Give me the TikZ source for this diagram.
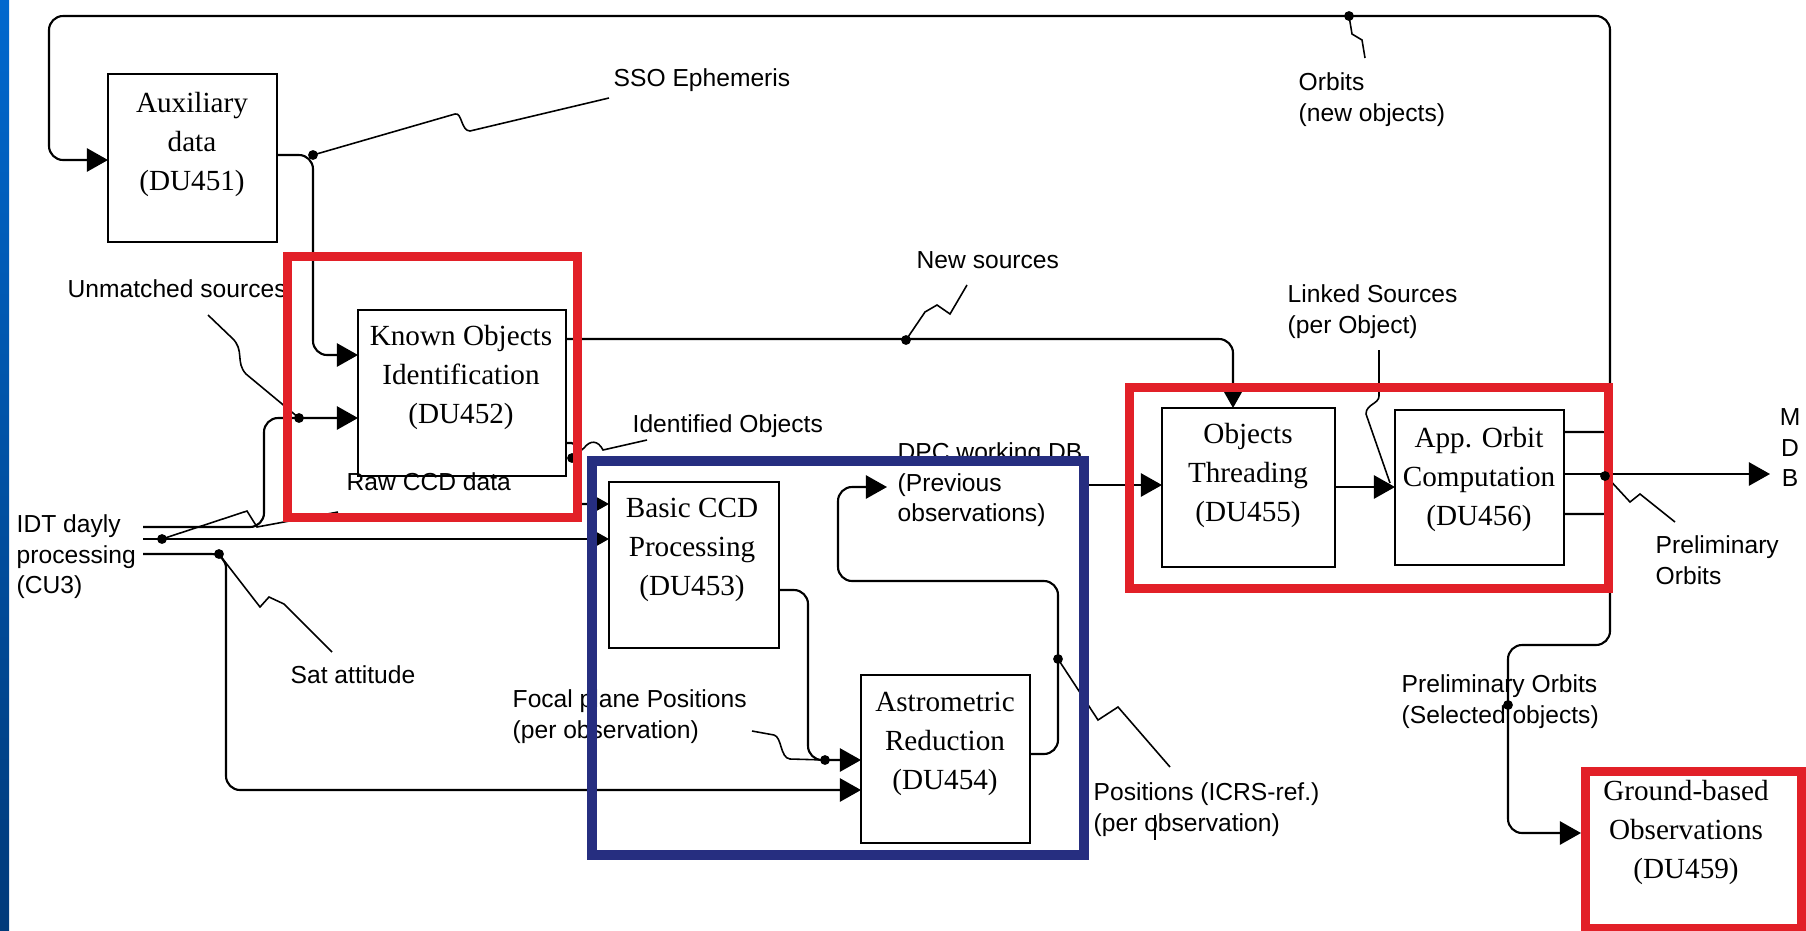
\documentclass[tikz,border=0pt]{standalone}
\usepackage{fontspec}
\setmainfont{Liberation Serif}
\setsansfont{Liberation Sans}
\usetikzlibrary{arrows.meta}

\definecolor{hlred}{RGB}{226,32,40}
\definecolor{hlblue}{RGB}{38,46,128}
\definecolor{stripT}{RGB}{0,104,206}
\definecolor{stripB}{RGB}{0,58,122}

\newcommand\lblfnt{\sffamily\fontsize{7}{8.7}\selectfont}
\newcommand\boxfnt{\rmfamily\fontsize{8.3}{11.1}\selectfont}

\tikzset{
  ln/.style={line width=0.6pt, rounded corners=4pt},
  arr/.style={ln, -{Triangle[length=6pt,width=6.6pt]}},
  squig/.style={line width=0.45pt},
  blk/.style={draw, line width=0.7pt, fill=white, outer sep=0pt, inner sep=0pt, anchor=north west},
  redbox/.style={draw=hlred, line width=2.6pt},
  bluebox/.style={draw=hlblue, line width=2.8pt},
  jdot/.style={circle, fill=black, inner sep=0pt, minimum size=2.8pt},
  lbl/.style={font=\lblfnt, inner sep=0pt, align=left, anchor=north west, yshift=6.09pt},
  boxtxt/.style={font=\boxfnt, inner sep=0pt, align=center, anchor=north, yshift=7.77pt},
}

\begin{document}
\begin{tikzpicture}[x=0.01cm, y=-0.01cm]
\useasboundingbox (0,0) rectangle (1806,930);
\fill[white] (0,0) rectangle (1806,930);
\shade[top color=stripT, bottom color=stripB] (0,0) rectangle (9,930);

% processing units
\node[blk, minimum width=1.69cm, minimum height=1.68cm] (aux)    at (108,74)   {};
\node[blk, minimum width=2.08cm, minimum height=1.66cm] (known)  at (358,310)  {};
\node[blk, minimum width=1.70cm, minimum height=1.66cm] (basic)  at (609,482)  {};
\node[blk, minimum width=1.69cm, minimum height=1.68cm] (astro)  at (861,675)  {};
\node[blk, minimum width=1.73cm, minimum height=1.59cm] (thread) at (1162,408) {};
\node[blk, minimum width=1.69cm, minimum height=1.55cm] (orbit)  at (1395,410) {};
\node[redbox, fill=white, minimum width=2.16cm, minimum height=1.57cm, anchor=north west, inner sep=0pt] (ground) at (1581,767) {};

\node[boxtxt] (aux-t)    at (192,112)  {\strut Auxiliary\\data\\(DU451)};
\node[boxtxt] (known-t)  at (461,345)  {\strut Known Objects\\Identification\\(DU452)};
\node[boxtxt] (basic-t)  at (692,517)  {\strut Basic CCD\\Processing\\(DU453)};
\node[boxtxt] (astro-t)  at (945,711)  {\strut Astrometric\\Reduction\\(DU454)};
\node[boxtxt] (thread-t) at (1248,443) {\strut Objects\\Threading\\(DU455)};
\node[boxtxt] (orbit-t)  at (1479,447) {\strut App. Orbit\\Computation\\(DU456)};
\node[boxtxt] (ground-t) at (1686,800) {\strut Ground-based\\Observations\\(DU459)};

% free connector ends
\coordinate (mdb) at (1770,474);
\coordinate (dpcin) at (887,487);
\coordinate (dpcout) at (1084,485);
\coordinate (orbjoin) at (1610,474);

% outputs of the orbit computation, joined behind the group frame
\draw[line width=0.6pt] (orbit.east |- 0,432) -- (1602,432) .. controls (1607,432) .. (1607,440) -- (1607,474);
\draw[line width=0.6pt] (orbit.east |- 0,514) -- (1602,514) .. controls (1607,514) .. (1607,506) -- (1607,474);
\draw[arr] (orbit.east |- 0,474) -- (mdb);
\draw[arr] (orbjoin) -- (1610,16) -- (49,16) -- (49,160) -- (aux.west |- 0,160);
\draw[arr] (orbjoin) -- (1610,645) -- (1508,645) -- (1508,833) -- (ground.west |- 0,833);

% data flows
\draw[arr] (aux.east |- 0,155) -- (313,155) -- (313,355) -- (known.west |- 0,355);
\draw[arr] (143,527) -- (264,527) -- (264,418) -- (known.west |- 0,418);
\draw[arr] (143,539) -- (basic.west |- 0,539);
\draw[arr] (143,554) -- (226,554) -- (226,790) -- (astro.west |- 0,790);
\draw[arr, rounded corners=1pt] (known.east |- 0,443) -- (575,443) -- (575,504) -- (basic.west |- 0,504);
\draw[arr] (known.east |- 0,339) -- (1233,339) -- (thread.north -| 1233,0);
\draw[arr] (basic.east |- 0,590) -- (808,590) -- (808,760) -- (astro.west |- 0,760);
\draw[arr] (astro.east |- 0,754) -- (1058,754) -- (1058,581) -- (838,581) -- (838,487) -- (dpcin);
\draw[arr] (dpcout) -- (thread.west |- dpcout);
\draw[arr] (thread.east |- 0,487) -- (orbit.west |- 0,487);

% label leaders
\draw[squig] (313,155) -- (455,114) .. controls (462,112) and (461,131) .. (470,131) -- (609,98);
\draw[squig] (1349,16) -- (1352,34) -- (1362,40) -- (1365,58);
\draw[squig] (208,315) -- (232,338) .. controls (245,350) and (235,362) .. (246,374) -- (299,418);
\draw[squig] (162,539) -- (247,511) -- (257,527) -- (338,512);
\draw[squig] (219,554) -- (260,607) -- (269,597) -- (284,604) -- (332,652);
\draw[squig] (572,458) -- (584,448) .. controls (590,440) and (598,440) .. (603,450) -- (647,440);
\draw[squig] (906,340) -- (925,312) -- (937,305) -- (950,314) -- (967,285);
\draw[squig] (1379,350) -- (1379,396) .. controls (1379,404) and (1366,404) .. (1366,414) -- (1390,483);
\draw[squig] (752,731) -- (774,735) .. controls (782,737) and (780,758) .. (790,759) -- (825,760);
\draw[squig] (1058,659) -- (1098,720) -- (1118,707) -- (1170,767);
\draw[squig] (1606,476) -- (1630,502) -- (1640,494) -- (1675,522);

% labels
\node[lbl] (sso-l)  at (613,86)   {\strut SSO Ephemeris};
\node[lbl] (orb-l)  at (1298,90)  {\strut Orbits\\(new objects)};
\node[lbl] (unm-l)  at (67,297)   {\strut Unmatched sources};
\node[lbl] (new-l)  at (916,268)  {\strut New sources};
\node[lbl] (lnk-l)  at (1287,302) {\strut Linked Sources\\(per Object)};
\node[lbl] (idf-l)  at (632,432)  {\strut Identified Objects};
\node[lbl] (raw-l)  at (346,490)  {\strut Raw CCD data};
\node[lbl] (dpc-l)  at (897,460)  {\strut DPC working DB\\(Previous\\observations)};
\node[lbl] (idt-l)  at (16,532)   {\strut IDT dayly\\processing\\(CU3)};
\node[lbl] (sat-l)  at (290,683)  {\strut Sat attitude};
\node[lbl] (foc-l)  at (512,707)  {\strut Focal plane Positions\\(per observation)};
\node[lbl] (pos-l)  at (1093,800) {\strut Positions (ICRS-ref.)\\(per observation)};
\node[lbl] (pre-l)  at (1655,553) {\strut Preliminary\\Orbits};
\node[lbl] (sel-l)  at (1401,692) {\strut Preliminary Orbits\\(Selected objects)};
\node[lbl, align=center, anchor=north] (mdb-l) at (1790,425) {\strut M\\D\\B};
\draw[line width=0.5pt] (1155,815) -- (1155,840);

% junctions
\foreach \p/\n in {{313,155}/j1, {299,418}/j2, {162,539}/j3, {219,554}/j4, {572,458}/j5,
                   {906,340}/j6, {825,760}/j7, {1058,659}/j8, {1349,16}/j9, {1508,705}/j10}
  \node[jdot] (\n) at (\p) {};

% highlighted groups
\draw[redbox] (287.5,256.5) rectangle (577.5,517.5);
\draw[redbox] (1129.5,387.5) rectangle (1608.5,588.5);
\draw[bluebox] (592,461) rectangle (1084,855);
\node[jdot] (j11) at (1605,476) {};
\end{tikzpicture}
\end{document}
